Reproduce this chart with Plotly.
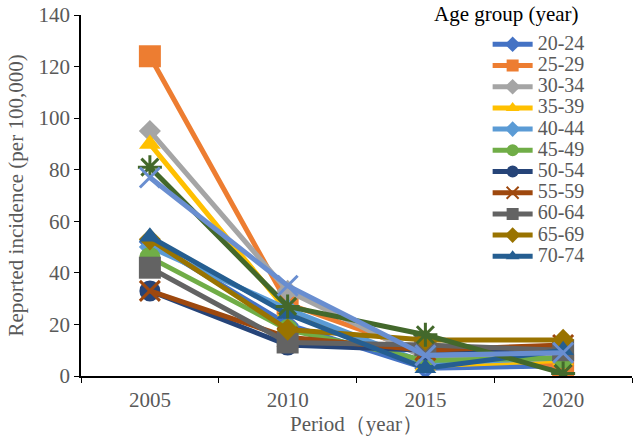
import plotly.graph_objects as go

periods = ["2005", "2010", "2015", "2020"]

age_20_24 = [52, 20, 3, 4]
age_25_29 = [124, 28, 9, 4]
age_30_34 = [95, 33, 7, 8]
age_35_39 = [90, 25, 4, 6]
age_40_44 = [50, 26, 5, 7]
age_45_49 = [46, 18, 6, 7]
age_50_54 = [33, 12, 10, 10]
age_55_59 = [33, 15, 10, 12]
age_60_64 = [42, 13, 12, 10]
age_65_69 = [53, 18, 14, 14]
age_70_74 = [54, 24, 3, 10]
age_75_79 = [81, 27, 16, 1]
age_80_up = [77, 35, 8, 9]

series = [
    ("20-24", age_20_24, "#4472C4", "diamond", True),
    ("25-29", age_25_29, "#ED7D31", "square", True),
    ("30-34", age_30_34, "#A5A5A5", "diamond", True),
    ("35-39", age_35_39, "#FFC000", "triangle-up", True),
    ("40-44", age_40_44, "#5B9BD5", "diamond", True),
    ("45-49", age_45_49, "#70AD47", "circle", True),
    ("50-54", age_50_54, "#264478", "circle", True),
    ("55-59", age_55_59, "#9E480E", "x-thin-open", True),
    ("60-64", age_60_64, "#636363", "square", True),
    ("65-69", age_65_69, "#997300", "diamond", True),
    ("70-74", age_70_74, "#255E91", "triangle-up", True),
    ("75-79", age_75_79, "#43682B", "asterisk-open", False),
    ("≥80", age_80_up, "#698ED0", "x-thin-open", False),
]

marker_sizes = {"diamond": 17, "square": 22, "circle": 21, "triangle-up": 19,
                "x-thin-open": 20, "asterisk-open": 20}

fig = go.Figure()
for name, vals, color, sym, show in series:
    open_sym = sym.endswith("open")
    fig.add_trace(go.Scatter(
        x=periods, y=vals,
        name='<span style="font-size:20px">' + name + '</span>',
        mode="lines+markers",
        line=dict(color=color, width=5),
        marker=dict(symbol=sym, size=marker_sizes[sym], color=color,
                    line=dict(color=color, width=3 if open_sym else 0)),
        showlegend=show,
    ))

font_family = "Liberation Serif"
fig.update_layout(
    width=638, height=438,
    margin=dict(l=81, r=6, t=15, b=62, autoexpand=False),
    paper_bgcolor="white", plot_bgcolor="white",
    font=dict(family=font_family, size=21, color="#595959"),
    showlegend=True,
    legend=dict(
        x=0.738, y=0.962, xanchor="left", yanchor="top",
        bgcolor="rgba(0,0,0,0)",
        font=dict(size=14, color="#595959", family=font_family),
        tracegroupgap=0, itemwidth=40, itemsizing="constant", maxheight=420,
    ),
    annotations=[dict(
        text="Age group (year)", xref="paper", yref="paper",
        x=0.637, y=1.041, xanchor="left", yanchor="top", showarrow=False,
        font=dict(size=21, color="black", family=font_family),
    )],
    xaxis=dict(
        type="category", range=[-0.5, 3.5],
        showline=True, linecolor="black", linewidth=1.5,
        ticks="outside", tickson="boundaries", ticklen=5, tickcolor="black",
        showgrid=False, zeroline=False, ticklabelstandoff=4,
        tickfont=dict(size=21, color="#595959", family=font_family),
        title=dict(text="Period（year）", font=dict(size=21, color="#595959", family=font_family), standoff=0),
    ),
    yaxis=dict(
        range=[0, 140], dtick=20,
        showline=True, linecolor="black", linewidth=1.5,
        ticks="outside", ticklen=5, tickcolor="black",
        showgrid=False, zeroline=False,
        tickfont=dict(size=21, color="#595959", family=font_family),
        title=dict(text="Reported incidence (per 100,000)", font=dict(size=21, color="#595959", family=font_family), standoff=9),
    ),
)

fig.write_html("out.html")
